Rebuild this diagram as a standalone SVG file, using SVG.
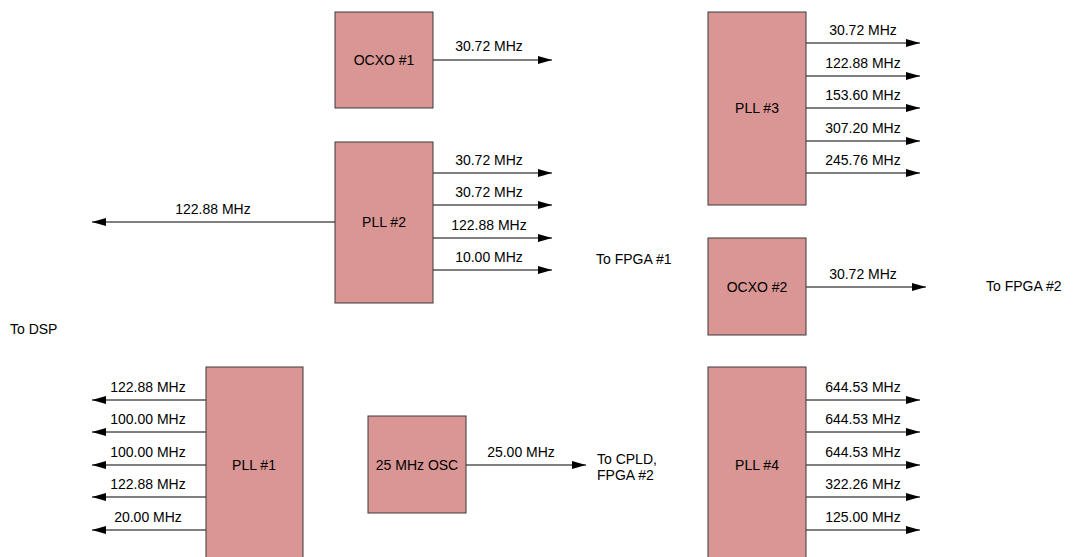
<svg xmlns="http://www.w3.org/2000/svg" width="1075" height="557" viewBox="0 0 1075 557">
<style>
.box{fill:#d99694;stroke:#3a3a3a;stroke-width:1}
.t{font-family:"Liberation Sans",Arial,sans-serif;font-size:14px;fill:#000}
.c{text-anchor:middle}
.w{stroke:#000;stroke-width:1;fill:none}
</style>
<defs>
<marker id="ah" viewBox="0 0 14 10" refX="14" refY="5" markerWidth="14" markerHeight="10" markerUnits="userSpaceOnUse" orient="auto">
<path d="M0,1 L14,5 L0,9 Z" fill="#000"/>
</marker>
</defs>
<rect width="1075" height="557" fill="#fff"/>
<g id="connectors">
<path class="w" marker-end="url(#ah)" d="M433,60 H552"/>
<path class="w" marker-end="url(#ah)" d="M433,173 H552"/>
<path class="w" marker-end="url(#ah)" d="M433,205 H552"/>
<path class="w" marker-end="url(#ah)" d="M433,238 H552"/>
<path class="w" marker-end="url(#ah)" d="M433,270 H552"/>
<path class="w" marker-end="url(#ah)" d="M335,222 H92"/>
<path class="w" marker-end="url(#ah)" d="M806,43 H920"/>
<path class="w" marker-end="url(#ah)" d="M806,76 H920"/>
<path class="w" marker-end="url(#ah)" d="M806,108 H920"/>
<path class="w" marker-end="url(#ah)" d="M806,141 H920"/>
<path class="w" marker-end="url(#ah)" d="M806,173 H920"/>
<path class="w" marker-end="url(#ah)" d="M806,287 H926"/>
<path class="w" marker-end="url(#ah)" d="M806,400 H920"/>
<path class="w" marker-end="url(#ah)" d="M806,432 H920"/>
<path class="w" marker-end="url(#ah)" d="M806,465 H920"/>
<path class="w" marker-end="url(#ah)" d="M806,497 H920"/>
<path class="w" marker-end="url(#ah)" d="M806,530 H920"/>
<path class="w" marker-end="url(#ah)" d="M206,400 H92"/>
<path class="w" marker-end="url(#ah)" d="M206,432 H92"/>
<path class="w" marker-end="url(#ah)" d="M206,465 H92"/>
<path class="w" marker-end="url(#ah)" d="M206,497 H92"/>
<path class="w" marker-end="url(#ah)" d="M206,530 H92"/>
<path class="w" marker-end="url(#ah)" d="M466,465 H586"/>
<g class="t c">
<text x="489" y="51">30.72 MHz</text>
<text x="489" y="165">30.72 MHz</text>
<text x="489" y="197">30.72 MHz</text>
<text x="489" y="230">122.88 MHz</text>
<text x="489" y="262">10.00 MHz</text>
<text x="213" y="214">122.88 MHz</text>
<text x="863" y="35">30.72 MHz</text>
<text x="863" y="68">122.88 MHz</text>
<text x="863" y="100">153.60 MHz</text>
<text x="863" y="133">307.20 MHz</text>
<text x="863" y="165">245.76 MHz</text>
<text x="863" y="279">30.72 MHz</text>
<text x="863" y="392">644.53 MHz</text>
<text x="863" y="424">644.53 MHz</text>
<text x="863" y="457">644.53 MHz</text>
<text x="863" y="489">322.26 MHz</text>
<text x="863" y="522">125.00 MHz</text>
<text x="148" y="392">122.88 MHz</text>
<text x="148" y="424">100.00 MHz</text>
<text x="148" y="457">100.00 MHz</text>
<text x="148" y="489">122.88 MHz</text>
<text x="148" y="522">20.00 MHz</text>
<text x="521" y="457">25.00 MHz</text>
</g>
</g>
<g id="ocxo1"><rect class="box" x="335" y="12" width="98" height="96"/><text class="t c" x="384" y="65">OCXO #1</text></g>
<g id="pll2"><rect class="box" x="335" y="142" width="98" height="161"/><text class="t c" x="384" y="227">PLL #2</text></g>
<g id="pll3"><rect class="box" x="708" y="12" width="98" height="193"/><text class="t c" x="757" y="113">PLL #3</text></g>
<g id="ocxo2"><rect class="box" x="708" y="238" width="98" height="97"/><text class="t c" x="757" y="292">OCXO #2</text></g>
<g id="pll4"><rect class="box" x="708" y="367" width="98" height="200"/><text class="t c" x="757" y="470">PLL #4</text></g>
<g id="pll1"><rect class="box" x="206" y="367" width="97" height="200"/><text class="t c" x="254" y="470">PLL #1</text></g>
<g id="osc25"><rect class="box" x="368" y="416" width="98" height="97"/><text class="t c" x="417" y="470">25 MHz OSC</text></g>
<g id="labels" class="t">
<text x="596" y="264">To FPGA #1</text>
<text x="986" y="291">To FPGA #2</text>
<text x="10" y="334">To DSP</text>
<text x="597" y="464">To CPLD,</text>
<text x="597" y="480">FPGA #2</text>
</g>
</svg>
